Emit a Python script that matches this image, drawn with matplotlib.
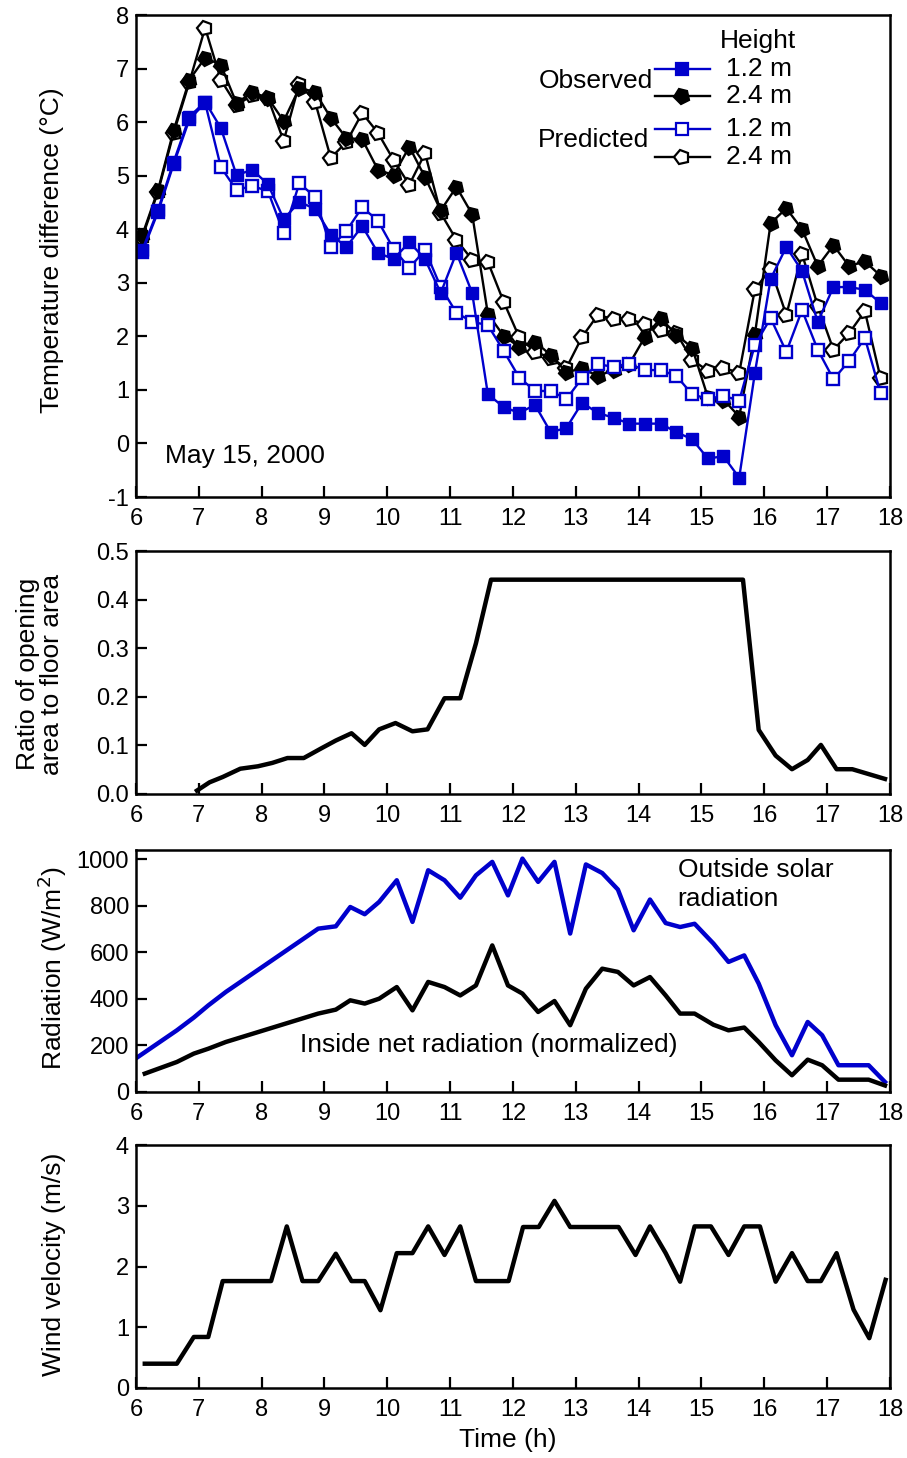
import numpy as np
import matplotlib
matplotlib.use("Agg")
import matplotlib.pyplot as plt
from matplotlib.markers import MarkerStyle
from matplotlib.transforms import Affine2D

plt.rcParams['font.family'] = ['Liberation Sans', 'DejaVu Sans']
plt.rcParams['axes.unicode_minus'] = False

# ---- panel 1: temperature difference (15 min samples) ----
t_temp = [6.10, 6.35, 6.60, 6.85, 7.10, 7.35, 7.60, 7.85, 8.10, 8.35, 8.60, 8.85,
          9.10, 9.35, 9.60, 9.85, 10.10, 10.35, 10.60, 10.85, 11.10, 11.35, 11.60, 11.85,
          12.10, 12.35, 12.60, 12.85, 13.10, 13.35, 13.60, 13.85, 14.10, 14.35, 14.60, 14.85,
          15.10, 15.35, 15.60, 15.85, 16.10, 16.35, 16.60, 16.85, 17.10, 17.35, 17.60, 17.85]
obs_12 = [3.61, 4.36, 5.26, 6.10, 6.38, 5.89, 5.01, 5.11, 4.84, 4.19, 4.51, 4.38,
          3.90, 3.67, 4.06, 3.56, 3.44, 3.76, 3.44, 2.81, 3.56, 2.81, 0.92, 0.68,
          0.57, 0.72, 0.21, 0.29, 0.76, 0.57, 0.48, 0.37, 0.37, 0.37, 0.21, 0.08,
          -0.28, -0.24, -0.64, 1.32, 3.07, 3.67, 3.22, 2.27, 2.92, 2.92, 2.87, 2.62]
obs_24 = [3.89, 4.73, 5.85, 6.79, 7.20, 7.07, 6.35, 6.56, 6.45, 6.02, 6.64, 6.56,
          6.08, 5.70, 5.68, 5.11, 5.01, 5.54, 4.97, 4.35, 4.79, 4.28, 2.42, 2.01,
          1.80, 1.90, 1.65, 1.33, 1.40, 1.26, 1.37, 1.48, 1.99, 2.34, 2.03, 1.79,
          0.87, 0.82, 0.50, 2.04, 4.11, 4.39, 4.00, 3.31, 3.70, 3.31, 3.40, 3.13]
pred_12 = [3.58, 4.32, 5.22, 6.05, 6.36, 5.16, 4.73, 4.81, 4.71, 3.93, 4.86, 4.60,
           3.66, 3.97, 4.41, 4.16, 3.63, 3.28, 3.61, 2.92, 2.44, 2.27, 2.21, 1.73,
           1.23, 0.98, 0.98, 0.83, 1.22, 1.48, 1.43, 1.48, 1.37, 1.37, 1.26, 0.92,
           0.83, 0.89, 0.80, 1.84, 2.34, 1.71, 2.49, 1.75, 1.20, 1.54, 1.97, 0.94]
pred_24 = [3.85, 4.70, 5.80, 6.75, 7.76, 6.79, 6.32, 6.50, 6.45, 5.65, 6.72, 6.38,
           5.33, 5.63, 6.17, 5.80, 5.29, 4.83, 5.42, 4.30, 3.80, 3.43, 3.39, 2.65,
           1.98, 1.71, 1.60, 1.41, 1.99, 2.40, 2.32, 2.32, 2.23, 2.12, 2.06, 1.56,
           1.36, 1.41, 1.32, 2.88, 3.26, 2.40, 3.54, 2.57, 1.75, 2.06, 2.47, 1.22]

# ---- panel 2: opening ratio ----
t_ratio = [6.97, 7.17, 7.38, 7.66, 7.94, 8.17, 8.41, 8.67, 8.95, 9.18, 9.43, 9.64,
           9.87, 10.13, 10.40, 10.64, 10.91, 11.16, 11.41, 11.65, 15.66, 15.91, 16.18,
           16.44, 16.69, 16.90, 17.15, 17.40, 17.66, 17.92]
ratio = [0.007, 0.024, 0.035, 0.052, 0.057, 0.064, 0.074, 0.074, 0.094, 0.110, 0.125, 0.101,
         0.133, 0.146, 0.129, 0.133, 0.197, 0.197, 0.310, 0.441, 0.441, 0.132, 0.079,
         0.051, 0.070, 0.101, 0.051, 0.051, 0.041, 0.031]

# ---- panel 3: radiation ----
t_solar = [6.00, 6.65, 6.92, 7.15, 7.43, 8.90, 9.18, 9.41, 9.64, 9.87, 10.15, 10.40,
           10.65, 10.91, 11.16, 11.41, 11.67, 11.92, 12.15, 12.40, 12.66, 12.91, 13.16,
           13.42, 13.67, 13.92, 14.18, 14.43, 14.66, 14.89, 15.19, 15.43, 15.68, 15.91,
           16.18, 16.44, 16.69, 16.92, 17.18, 17.66, 17.92]
solar = [145, 265, 320, 372, 430, 702, 712, 795, 764, 817, 910, 731,
         953, 910, 835, 931, 989, 845, 1003, 903, 989, 681, 978,
         941, 870, 695, 827, 726, 709, 723, 638, 559, 587, 466,
         287, 158, 301, 244, 115, 115, 43]
t_net = [6.14, 6.65, 6.92, 7.15, 7.43, 8.90, 9.18, 9.41, 9.64, 9.87, 10.15, 10.40,
         10.65, 10.91, 11.16, 11.41, 11.67, 11.92, 12.15, 12.40, 12.66, 12.91, 13.16,
         13.42, 13.67, 13.92, 14.18, 14.43, 14.66, 14.89, 15.19, 15.43, 15.68, 15.91,
         16.18, 16.44, 16.69, 16.92, 17.18, 17.66, 17.92]
net = [79, 129, 165, 186, 215, 337, 354, 394, 380, 401, 451, 351,
       473, 451, 415, 458, 630, 458, 423, 344, 391, 287, 444,
       530, 516, 458, 494, 415, 337, 337, 289, 265, 277, 215,
       136, 72, 139, 115, 53, 53, 28]

# ---- panel 4: wind ----
t_wind = [6.14, 6.65, 6.92, 7.15, 7.38, 8.15, 8.40, 8.65, 8.90, 9.18, 9.43, 9.64,
          9.89, 10.15, 10.40, 10.65, 10.91, 11.16, 11.41, 11.93, 12.16, 12.41, 12.66,
          12.91, 13.68, 13.95, 14.18, 14.43, 14.66, 14.89, 15.15, 15.43, 15.68, 15.93,
          16.18, 16.44, 16.69, 16.90, 17.15, 17.42, 17.67, 17.93]
wind = [0.40, 0.40, 0.84, 0.84, 1.76, 1.76, 2.66, 1.76, 1.76, 2.21, 1.76, 1.76,
        1.28, 2.22, 2.22, 2.66, 2.19, 2.66, 1.76, 1.76, 2.65, 2.65, 3.08,
        2.65, 2.65, 2.19, 2.66, 2.22, 1.75, 2.66, 2.66, 2.19, 2.66, 2.66,
        1.75, 2.22, 1.76, 1.76, 2.22, 1.29, 0.82, 1.78]

BLUE = '#0000cc'
TXT = 19
TICK = 17

fig = plt.figure(figsize=(9.07, 14.58), dpi=100)
L, W = 136 / 907, 754 / 907
def px_axes(top, bot):
    return fig.add_axes([L, 1 - bot / 1458, W, (bot - top) / 1458])

ax1 = px_axes(15, 497)
ax2 = px_axes(551, 794)
ax3 = px_axes(850, 1092)
ax4 = px_axes(1145, 1388)

for ax in (ax1, ax2, ax3, ax4):
    ax.set_xlim(6, 18)
    ax.set_xticks(range(6, 19))
    for s in ax.spines.values():
        s.set_linewidth(1.8)
    ax.tick_params(direction='in', length=8, width=1.6, labelsize=TICK, top=False, right=False)
    ax.tick_params(axis='x', pad=8)
    ax.tick_params(axis='y', pad=5)

pent_f = MarkerStyle('p', transform=Affine2D().rotate_deg(170))
pent_o = MarkerStyle('p', transform=Affine2D().rotate_deg(160))

ax1.plot(t_temp, pred_24, color='k', lw=1.7, marker=pent_o, ms=11, mfc='white', mec='k', mew=1.6)
ax1.plot(t_temp, obs_24, color='k', lw=1.7, marker=pent_f, ms=11, mfc='k', mec='k')
ax1.plot(t_temp, pred_12, color=BLUE, lw=1.7, marker='s', ms=8.5, mfc='white', mec=BLUE, mew=1.7)
ax1.plot(t_temp, obs_12, color=BLUE, lw=1.7, marker='s', ms=9, mfc=BLUE, mec=BLUE)
ax1.set_ylim(-1, 8)
ax1.set_yticks(range(-1, 9))
ax1.text(6.46, -0.23, 'May 15, 2000', fontsize=TXT, va='center', ha='left')

# hand-made legend
tr = ax1.transAxes
rows = [(0.888, BLUE, 's', BLUE), (0.832, 'k', pent_f, 'k'),
        (0.763, BLUE, 's', 'white'), (0.705, 'k', pent_o, 'white')]
labels = ['1.2 m', '2.4 m', '1.2 m', '2.4 m']
for (yy, c, m, fc), lab in zip(rows, labels):
    ax1.plot([0.688, 0.761], [yy, yy], color=c, lw=1.7, transform=tr, clip_on=False)
    ms = 8.5 if m == 's' else 11
    ax1.plot([0.7245], [yy], marker=m, ms=ms, mfc=fc, mec=c, mew=1.6, transform=tr, clip_on=False)
    ax1.text(0.782, yy, lab, fontsize=TXT, va='center', ha='left', transform=tr)
ax1.text(0.775, 0.946, 'Height', fontsize=TXT, va='center', ha='left', transform=tr)
ax1.text(0.686, 0.863, 'Observed', fontsize=TXT, va='center', ha='right', transform=tr)
ax1.text(0.680, 0.741, 'Predicted', fontsize=TXT, va='center', ha='right', transform=tr)

ax2.plot(t_ratio, ratio, color='k', lw=3.2)
ax2.set_ylim(0, 0.5)
ax2.set_yticks([0, 0.1, 0.2, 0.3, 0.4, 0.5])
ax2.set_yticklabels(['0.0', '0.1', '0.2', '0.3', '0.4', '0.5'])

ax3.plot(t_solar, solar, color=BLUE, lw=3.2)
ax3.plot(t_net, net, color='k', lw=3.2)
ax3.set_ylim(0, 1040)
ax3.set_yticks(range(0, 1001, 200))
ax3.text(14.62, 953, 'Outside solar', fontsize=TXT, va='center', ha='left')
ax3.text(14.62, 828, 'radiation', fontsize=TXT, va='center', ha='left')
ax3.text(11.62, 202, 'Inside net radiation (normalized)', fontsize=TXT, va='center', ha='center')

ax4.plot(t_wind, wind, color='k', lw=3.2)
ax4.set_ylim(0, 4)
ax4.set_yticks(range(0, 5))

# y labels in pixel positions
def ftext(x, y, s, **kw):
    fig.text(x / 907, 1 - y / 1458, s, fontsize=TXT, ha='center', va='center', **kw)

ftext(52, 250, 'Temperature difference (°C)', rotation=90)
ftext(40, 674, 'Ratio of opening\narea to floor area', rotation=90, linespacing=1.05)
ftext(52, 968, 'Radiation (W/m$^{2}$)', rotation=90)
ftext(54, 1264, 'Wind velocity (m/s)', rotation=90)
ftext(508, 1440, 'Time (h)')

fig.savefig('out.png', dpi=100)
